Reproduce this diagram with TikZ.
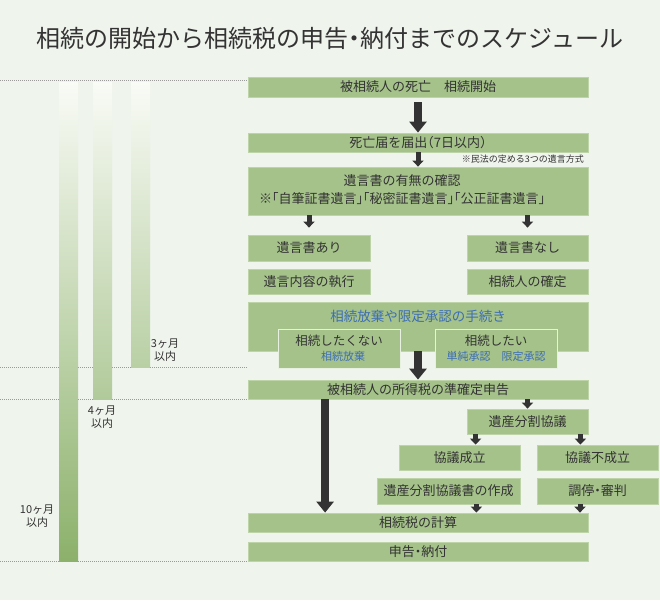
\documentclass[tikz,border=0pt]{standalone}
\usepackage{fontspec}
\setmainfont[RawFeature=+halt]{Noto Sans CJK JP}
\usetikzlibrary{arrows.meta}

\definecolor{bg}{HTML}{EFF4EC}
\definecolor{boxfill}{HTML}{A5C28A}
\definecolor{boxline}{HTML}{BDD3A8}
\definecolor{ink}{HTML}{333333}
\definecolor{linkblue}{HTML}{3D6DB5}
\definecolor{bartop}{HTML}{F9FBF6}
\definecolor{barbot}{HTML}{8CB16B}
\definecolor{dotgray}{HTML}{9A9A9A}

\tikzset{
  box/.style={fill=boxfill, draw=boxline, line width=0.8pt, inner sep=0pt,
    text=ink, font=\fontsize{13}{15}\selectfont, minimum height=20pt},
  subbox/.style={box, draw=white!75!boxfill, line width=1pt, align=center,
    font=\fontsize{12.5}{15}\selectfont},
  bigarrow/.style={draw=ink, line width=8pt, -{Triangle[width=17pt,length=11pt]}},
  smallarrow/.style={draw=ink, line width=5pt, -{Triangle[width=11pt,length=6pt]}},
  deadline/.style={dotgray, line width=1pt, dash pattern=on 1pt off 1pt},
  monthlabel/.style={text=ink, font=\fontsize{11}{13}\selectfont, align=center, inner sep=0pt},
}

\begin{document}
\begin{tikzpicture}[x=1pt, y=-1pt]

\fill[bg] (0,0) rectangle (660,600);
\useasboundingbox (0,0) rectangle (660,600);

\node[text=ink, font=\fontsize{24}{26}\selectfont] (title) at (330,38)
  {相続の開始から相続税の申告・納付までのスケジュール};

% deadlines
\draw[deadline] (0,80) -- (248,80);
\draw[deadline] (0,367) -- (248,367);
\draw[deadline] (0,399) -- (248,399);
\draw[deadline] (0,561) -- (248,561);

\shade[top color=bartop, bottom color=barbot] (59,82) rectangle (78,561);
\shade[top color=bartop, bottom color=barbot!66!bartop] (93,82) rectangle (112,399);
\shade[top color=bartop, bottom color=barbot!59!bartop] (131,82) rectangle (150,367);

\node[monthlabel] (three) at (165,350) {3ヶ月\\以内};
\node[monthlabel] (four) at (102,417) {4ヶ月\\以内};
\node[monthlabel] (ten) at (37,516) {10ヶ月\\以内};

% steps
\node[box, minimum width=340pt] (dead) at (418,87) {被相続人の死亡　相続開始};
\node[box, minimum width=340pt, minimum height=19pt] (notice) at (418,142.5) {死亡届を届出（7日以内）};
\node[text=ink, font=\fontsize{9}{10}\selectfont, anchor=east, inner sep=0pt] (note) at (584,159)
  {※民法の定める3つの遺言方式};
\node[box, minimum width=340pt, minimum height=48pt] (will) at (418,191) {};
\node[text=ink, font=\fontsize{13}{18}\selectfont, align=center, inner sep=0pt] (willtxt) at (402,189.5)
  {遺言書の有無の確認\\※「自筆証書遺言」「秘密証書遺言」「公正証書遺言」};

\node[box, minimum width=122pt, minimum height=26pt] (yes) at (309,248) {遺言書あり};
\node[box, minimum width=121pt, minimum height=26pt] (no) at (527.5,248) {遺言書なし};
\node[box, minimum width=122pt, minimum height=25pt] (exec) at (309,281.5) {遺言内容の執行};
\node[box, minimum width=121pt, minimum height=25pt] (heirs) at (527.5,281.5) {相続人の確定};

\node[box, minimum width=340pt, minimum height=49pt] (proc) at (418,326.5) {};
\node[text=linkblue, font=\fontsize{13.5}{15}\selectfont, inner sep=0pt] (proctxt) at (418,316.5)
  {相続放棄や限定承認の手続き};
\node[subbox, minimum width=122pt, minimum height=39pt] (refuse) at (339,348.5)
  {相続したくない\\{\color{linkblue}\fontsize{11}{13}\selectfont\hspace{8pt}相続放棄}};
\node[subbox, minimum width=122pt, minimum height=39pt] (accept) at (496,348.5)
  {相続したい\\{\color{linkblue}\fontsize{11}{13}\selectfont 単純承認　限定承認}};

\node[box, minimum width=340pt, minimum height=19pt] (income) at (418,389.5) {被相続人の所得税の準確定申告};
\node[box, minimum width=121pt, minimum height=25pt] (split) at (527.5,421.5) {遺産分割協議};
\node[box, minimum width=121pt, minimum height=25pt] (agreed) at (459.5,457.5) {協議成立};
\node[box, minimum width=121pt, minimum height=25pt] (failed) at (597.5,457.5) {協議不成立};
\node[box, minimum width=143pt, minimum height=26pt] (deed) at (448.5,491) {遺産分割協議書の作成};
\node[box, minimum width=121pt, minimum height=26pt] (court) at (597.5,491) {調停・審判};
\node[box, minimum width=340pt, minimum height=19pt] (tax) at (418,522.5) {相続税の計算};
\node[box, minimum width=340pt, minimum height=19pt] (pay) at (418,551.5) {申告・納付};

% arrows
\draw[bigarrow, shorten <=5pt] (dead.south) -- (notice.north);
\draw[smallarrow] (notice.south) -- (will.north);
\draw[smallarrow, shorten >=7pt] (will.south -| yes.north) -- (yes.north);
\draw[smallarrow, shorten >=7pt] (will.south -| no.north) -- (no.north);
\draw[bigarrow] (proc.south) -- (income.north);
\draw[bigarrow] ([xshift=77.5pt]income.south west) -- ([xshift=77.5pt]tax.north west);
\draw[smallarrow] (income.south -| split.north) -- (split.north);
\draw[smallarrow] ([xshift=9pt]split.south west) -- ([xshift=9pt]split.south west |- agreed.north);
\draw[smallarrow] ([xshift=-8pt]split.south east) -- ([xshift=-8pt]split.south east |- failed.north);
\draw[smallarrow] ([xshift=-44pt]deed.south east) -- ([xshift=-44pt]deed.south east |- tax.north);
\draw[smallarrow] ([xshift=-17.5pt]court.south) -- ([xshift=-17.5pt]court.south |- tax.north);

\end{tikzpicture}
\end{document}
